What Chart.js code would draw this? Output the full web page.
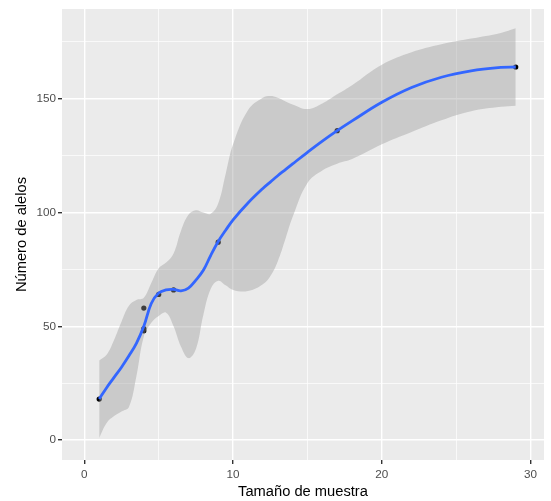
<!DOCTYPE html>
<html>
<head>
<meta charset="utf-8">
<script src="https://cdn.jsdelivr.net/npm/chart.js@4/dist/chart.umd.min.js"></script>
<style>
  html, body { margin: 0; padding: 0; background: #fff; }
  #wrap { width: 551px; height: 501px; }
</style>
</head>
<body>
<div id="wrap"><canvas id="chart" width="551" height="501"></canvas></div>
<script>
// observed samples
const sampleSize = [1, 4, 4, 4, 5, 6, 9, 17, 29];
const alleleCount = [18, 58, 49, 48, 64, 66, 87, 136, 164];

// loess curve + confidence band
const smoothX = [1, 1.5, 2, 2.5, 3, 3.5, 4, 4.5, 5, 5.5, 6, 6.5, 7, 7.5, 8, 8.5, 9, 9.5, 10, 11, 12, 12.5, 13, 13.5, 14, 15, 16, 17, 18, 20, 22, 24, 26, 28, 29];
const smoothY = [18, 23, 27.5, 32, 37, 42.5, 50, 60, 64.6, 66, 66.2, 65.6, 66.8, 70.3, 74.6, 81.2, 87.3, 92.2, 96.8, 104.2, 110.6, 113.4, 116.2, 118.8, 121.4, 126.5, 131.4, 136, 140.3, 148.5, 155, 159.5, 162.3, 163.8, 164];
const bandLow = [1, 7.5, 10.5, 12.5, 14.5, 28, 45.5, 51.5, 54.5, 56, 50, 41, 36, 40, 55, 66.5, 70, 68, 66, 65.5, 68.5, 72, 78.5, 88, 98, 113, 118.5, 121.5, 123.5, 130, 135.4, 140.6, 144.6, 146.5, 147];
const bandHigh = [35, 37.5, 44, 52, 59, 61.5, 62.5, 69, 75.5, 78, 82, 92, 99, 101, 100, 99.5, 104, 117, 130, 145, 150.5, 151.2, 150.5, 149, 147.5, 145.5, 148, 152, 156, 165, 170.5, 174, 176.5, 179, 181];

// axis ticks
const xMajor = [0, 10, 20, 30];
const xMinor = [5, 15, 25];
const yMajor = [0, 50, 100, 150];
const yMinor = [25, 75, 125, 175];

const toXY = (xs, ys) => xs.map((x, i) => ({ x: x, y: ys[i] }));

const panelBg = {
  id: "panelBg",
  beforeDraw(chart) {
    const { ctx, chartArea: a } = chart;
    ctx.save();
    ctx.fillStyle = "#EBEBEB";
    ctx.fillRect(a.left, a.top, a.right - a.left, a.bottom - a.top);
    ctx.restore();
  },
};

const FONT = "'Liberation Sans', Arial, sans-serif";

function axisOpts(major, minor, min, max, title, isX) {
  const all = major.concat(minor).sort((a, b) => a - b);
  return {
    type: "linear",
    min: min,
    max: max,
    afterBuildTicks: (s) => {
      s.ticks = all.map((v) => ({ value: v }));
    },
    afterFit: (s) => {
      if (isX) s.height = 41;
      else s.width = 62;
    },
    border: { display: false },
    grid: {
      color: "#FFFFFF",
      lineWidth: (c) => (major.includes(c.tick.value) ? 1.4 : 0.7),
      tickLength: 4,
      tickWidth: 1.4,
      tickColor: (c) => (major.includes(c.tick.value) ? "#333333" : "rgba(0,0,0,0)"),
    },
    ticks: {
      autoSkip: false,
      maxRotation: 0,
      padding: isX ? 4 : 2,
      color: "#4D4D4D",
      font: { family: FONT, size: 11.7 },
      callback: (v) => (major.includes(v) ? String(v) : ""),
    },
    title: {
      display: true,
      text: title,
      color: "#000000",
      font: { family: FONT, size: 14.7 },
      padding: isX ? { top: 0, bottom: 0 } : { top: 13, bottom: 0 },
    },
  };
}

new Chart(document.getElementById("chart").getContext("2d"), {
  type: "scatter",
  data: {
    datasets: [
      {
        label: "puntos",
        data: toXY(sampleSize, alleleCount),
        backgroundColor: "#000000",
        borderColor: "#000000",
        pointRadius: 2.6,
        pointBorderWidth: 0,
        showLine: false,
        order: 3,
      },
      {
        label: "inferior",
        data: toXY(smoothX, bandLow),
        showLine: true,
        borderWidth: 0,
        borderColor: "rgba(0,0,0,0)",
        pointRadius: 0,
        tension: 0.4,
        fill: false,
        order: 2,
      },
      {
        label: "superior",
        data: toXY(smoothX, bandHigh),
        showLine: true,
        borderWidth: 0,
        borderColor: "rgba(0,0,0,0)",
        backgroundColor: "rgba(153,153,153,0.4)",
        pointRadius: 0,
        tension: 0.4,
        fill: "-1",
        order: 2,
      },
      {
        label: "loess",
        data: toXY(smoothX, smoothY),
        showLine: true,
        borderColor: "#3366FF",
        borderWidth: 2.8,
        pointRadius: 0,
        tension: 0.4,
        fill: false,
        order: 1,
      },
    ],
  },
  options: {
    responsive: false,
    animation: false,
    devicePixelRatio: 1,
    layout: { padding: { left: 0, top: 8, right: 7, bottom: 0 } },
    plugins: {
      legend: { display: false },
      tooltip: { enabled: false },
    },
    scales: {
      x: axisOpts(xMajor, xMinor, -1.5, 30.9, "Tamaño de muestra", true),
      y: axisOpts(yMajor, yMinor, -8.8, 189.5, "Número de alelos", false),
    },
  },
  plugins: [panelBg],
});
</script>
</body>
</html>
